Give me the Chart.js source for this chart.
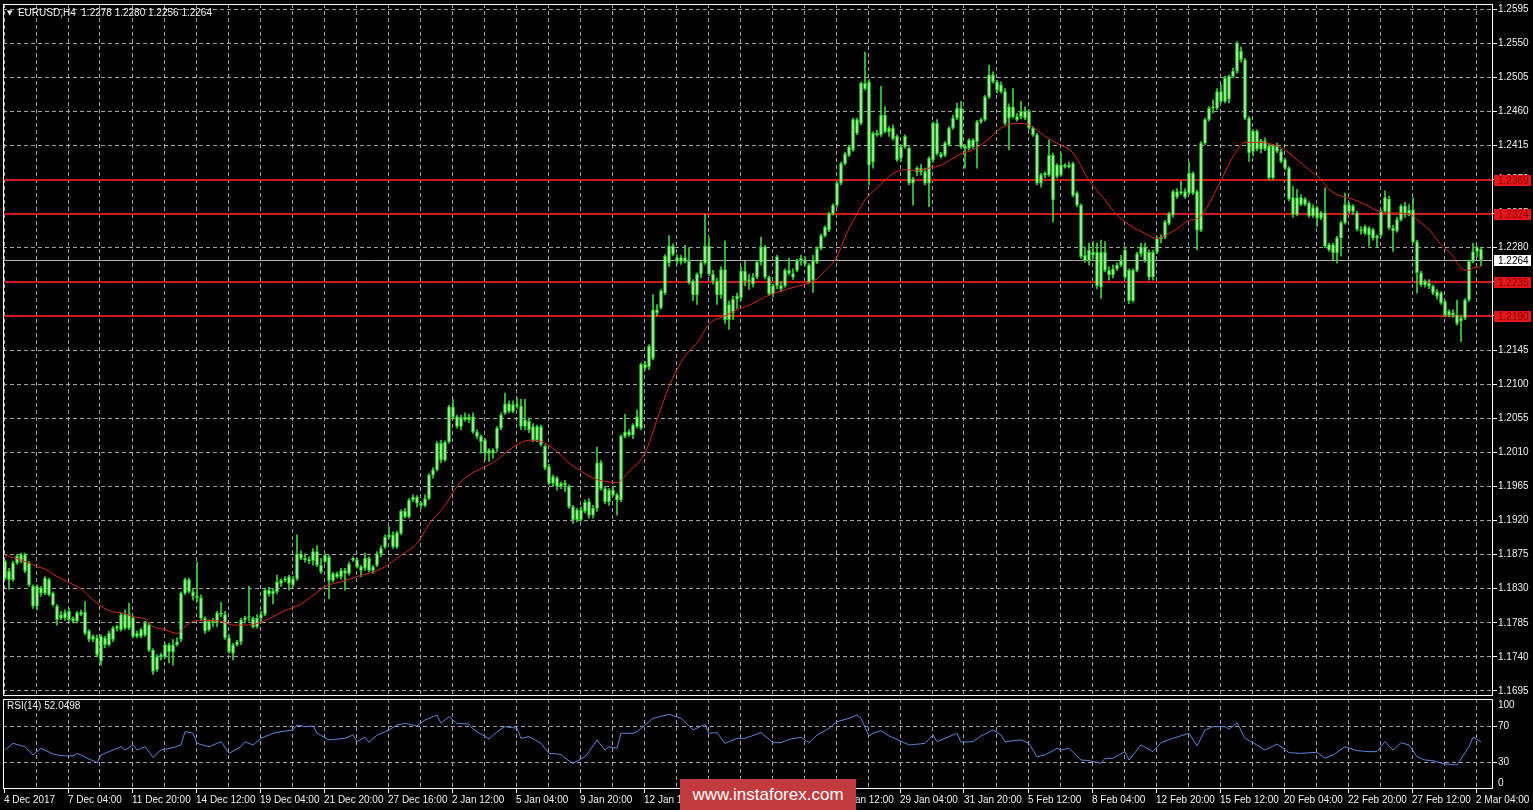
<!DOCTYPE html>
<html>
<head>
<meta charset="utf-8">
<title>EURUSD,H4</title>
<script src="https://cdn.jsdelivr.net/npm/chart.js@4.4.1/dist/chart.umd.min.js"></script>
<style>
  html, body { margin: 0; padding: 0; background: #000; }
  body { width: 1533px; height: 810px; position: relative; overflow: hidden; font-family: "Liberation Sans", Arial, sans-serif; }
  #mainBox { position: absolute; left: 0; top: 0; width: 1533px; height: 697px; }
  #rsiBox { position: absolute; left: 0; top: 697px; width: 1533px; height: 113px; }
  .caption { position: absolute; color: #f2f2f2; font-size: 10px; line-height: 12px; white-space: pre; }
  #title { left: 7px; top: 7px; }
  #title .tri { font-family: "DejaVu Sans"; font-size: 7px; position: relative; top: -1px; }
  #rsiTitle { left: 7px; top: 700px; }
  #mark { position: absolute; left: 680px; top: 779px; width: 176px; height: 31px; background: #c23a3d;
          color: #fff; font-size: 17px; line-height: 31px; text-align: center; }
</style>
</head>
<body>
<div id="mainBox"><canvas id="main"></canvas></div>
<div id="rsiBox"><canvas id="rsi"></canvas></div>
<div id="title" class="caption"><span class="tri">▼</span>  EURUSD,H4  1.2278 1.2280 1.2256 1.2264</div>
<div id="rsiTitle" class="caption">RSI(14) 52.0498</div>
<div id="mark">www.instaforex.com</div>
<script>
// EURUSD H4, one entry per bar (4 Dec 2017 .. 2 Mar 2018)
const opens = [
  1.1844,1.1853,1.1842,1.1864,1.1866,1.1875,1.1864,1.1833,1.1807,1.1831,
  1.1824,1.1842,1.1824,1.1807,1.1791,1.1791,1.1800,1.1787,1.1787,1.1799,
  1.1799,1.1774,1.1763,1.1765,1.1734,1.1765,1.1756,1.1763,1.1778,1.1776,
  1.1796,1.1778,1.1792,1.1767,1.1767,1.1769,1.1782,1.1749,1.1723,1.1740,
  1.1740,1.1756,1.1747,1.1756,1.1763,1.1824,1.1842,1.1826,1.1820,1.1818,
  1.1791,1.1776,1.1787,1.1785,1.1798,1.1796,1.1765,1.1745,1.1756,1.1760,
  1.1789,1.1792,1.1791,1.1780,1.1791,1.1796,1.1828,1.1823,1.1826,1.1837,
  1.1841,1.1846,1.1835,1.1843,1.1876,1.1870,1.1868,1.1867,1.1879,1.1861,
  1.1866,1.1872,1.1841,1.1850,1.1846,1.1854,1.1850,1.1868,1.1868,1.1859,
  1.1857,1.1870,1.1854,1.1861,1.1876,1.1885,1.1898,1.1901,1.1885,1.1903,
  1.1932,1.1925,1.1947,1.1951,1.1943,1.1940,1.1949,1.1980,1.1987,1.2022,
  1.2000,1.2024,1.2070,1.2057,1.2044,1.2056,1.2053,1.2057,1.2037,1.2031,
  1.2026,1.2009,1.2013,1.2015,1.2042,1.2062,1.2074,1.2064,1.2073,1.2071,
  1.2044,1.2051,1.2044,1.2026,1.2044,1.2018,1.1991,1.1969,1.1976,1.1965,
  1.1969,1.1965,1.1938,1.1921,1.1934,1.1932,1.1945,1.1927,1.1936,1.1996,
  1.1962,1.1945,1.1960,1.1954,1.1947,1.2031,1.2037,1.2033,1.2044,1.2042,
  1.2126,1.2123,1.2134,1.2198,1.2201,1.2220,1.2260,1.2282,1.2267,1.2262,
  1.2267,1.2262,1.2236,1.2218,1.2245,1.2260,1.2282,1.2245,1.2236,1.2218,
  1.2251,1.2185,1.2194,1.2212,1.2214,1.2249,1.2236,1.2232,1.2241,1.2261,
  1.2281,1.2241,1.2219,1.2230,1.2230,1.2230,1.2250,1.2246,1.2250,1.2263,
  1.2263,1.2257,1.2237,1.2261,1.2279,1.2296,1.2303,1.2325,1.2336,1.2365,
  1.2391,1.2402,1.2409,1.2449,1.2444,1.2497,1.2499,1.2393,1.2431,1.2429,
  1.2455,1.2433,1.2438,1.2427,1.2398,1.2413,1.2411,1.2365,1.2380,1.2385,
  1.2380,1.2365,1.2396,1.2444,1.2404,1.2402,1.2416,1.2438,1.2451,1.2464,
  1.2414,1.2411,1.2422,1.2420,1.2446,1.2449,1.2479,1.2508,1.2499,1.2495,
  1.2486,1.2451,1.2466,1.2453,1.2453,1.2460,1.2460,1.2438,1.2429,1.2365,
  1.2376,1.2376,1.2402,1.2374,1.2389,1.2387,1.2389,1.2391,1.2352,1.2336,
  1.2270,1.2263,1.2274,1.2274,1.2228,1.2274,1.2250,1.2244,1.2252,1.2257,
  1.2277,1.2250,1.2210,1.2250,1.2272,1.2281,1.2274,1.2241,1.2274,1.2292,
  1.2294,1.2312,1.2323,1.2354,1.2352,1.2354,1.2352,1.2378,1.2354,1.2303,
  1.2418,1.2449,1.2464,1.2464,1.2486,1.2473,1.2476,1.2506,1.2513,1.2539,
  1.2528,1.2451,1.2407,1.2434,1.2410,1.2421,1.2414,1.2372,1.2414,1.2407,
  1.2396,1.2385,1.2346,1.2324,1.2346,1.2337,1.2339,1.2322,1.2333,1.2319,
  1.2326,1.2284,1.2284,1.2273,1.2293,1.2313,1.2337,1.2328,1.2326,1.2304,
  1.2299,1.2306,1.2304,1.2293,1.2297,1.2328,1.2344,1.2306,1.2302,1.2317,
  1.2335,1.2324,1.2330,1.2288,1.2247,1.2231,1.2233,1.2229,1.2222,1.2220,
  1.2209,1.2191,1.2194,1.2191,1.2183,1.2187,1.2211,1.2262,1.2275,1.2278
];
const highs = [
  1.1868,1.1857,1.1866,1.1875,1.1877,1.1877,1.1866,1.1835,1.1835,1.1833,
  1.1846,1.1844,1.1826,1.1809,1.1800,1.1802,1.1804,1.1793,1.1800,1.1802,
  1.1813,1.1776,1.1769,1.1769,1.1769,1.1767,1.1774,1.1780,1.1782,1.1798,
  1.1802,1.1811,1.1794,1.1774,1.1778,1.1787,1.1785,1.1751,1.1743,1.1745,
  1.1758,1.1758,1.1763,1.1765,1.1826,1.1844,1.1844,1.1829,1.1865,1.1822,
  1.1793,1.1789,1.1791,1.1800,1.1812,1.1800,1.1769,1.1758,1.1762,1.1791,
  1.1794,1.1833,1.1793,1.1796,1.1800,1.1830,1.1832,1.1830,1.1848,1.1843,
  1.1846,1.1848,1.1846,1.1901,1.1880,1.1876,1.1872,1.1883,1.1887,1.1870,
  1.1876,1.1874,1.1852,1.1852,1.1857,1.1857,1.1865,1.1872,1.1870,1.1861,
  1.1877,1.1872,1.1861,1.1879,1.1887,1.1901,1.1912,1.1905,1.1906,1.1934,
  1.1936,1.1949,1.1954,1.1953,1.1945,1.1954,1.1982,1.1990,1.2024,1.2026,
  1.2025,1.2072,1.2080,1.2059,1.2059,1.2062,1.2060,1.2062,1.2040,1.2033,
  1.2028,1.2015,1.2015,1.2044,1.2062,1.2088,1.2078,1.2078,1.2082,1.2080,
  1.2080,1.2055,1.2048,1.2046,1.2046,1.2020,1.1994,1.1980,1.1978,1.1971,
  1.1973,1.1967,1.1940,1.1936,1.1938,1.1947,1.1949,1.1940,1.2017,1.1999,
  1.1965,1.1962,1.1965,1.1956,1.2033,1.2060,1.2040,1.2048,1.2066,1.2128,
  1.2130,1.2152,1.2218,1.2205,1.2225,1.2271,1.2296,1.2285,1.2271,1.2270,
  1.2283,1.2280,1.2238,1.2247,1.2262,1.2324,1.2293,1.2250,1.2240,1.2255,
  1.2289,1.2210,1.2216,1.2220,1.2255,1.2262,1.2245,1.2246,1.2263,1.2294,
  1.2283,1.2243,1.2232,1.2270,1.2235,1.2252,1.2266,1.2252,1.2265,1.2270,
  1.2268,1.2259,1.2270,1.2281,1.2298,1.2309,1.2327,1.2338,1.2367,1.2393,
  1.2406,1.2415,1.2451,1.2451,1.2499,1.2538,1.2502,1.2433,1.2435,1.2493,
  1.2466,1.2440,1.2442,1.2429,1.2415,1.2429,1.2413,1.2373,1.2387,1.2390,
  1.2385,1.2400,1.2446,1.2449,1.2406,1.2420,1.2440,1.2455,1.2471,1.2473,
  1.2416,1.2424,1.2424,1.2448,1.2451,1.2481,1.2521,1.2512,1.2501,1.2499,
  1.2490,1.2470,1.2490,1.2457,1.2473,1.2466,1.2462,1.2440,1.2431,1.2378,
  1.2380,1.2422,1.2405,1.2391,1.2405,1.2391,1.2393,1.2393,1.2354,1.2338,
  1.2281,1.2286,1.2288,1.2286,1.2290,1.2288,1.2255,1.2257,1.2260,1.2270,
  1.2281,1.2252,1.2252,1.2274,1.2286,1.2286,1.2277,1.2277,1.2294,1.2297,
  1.2316,1.2327,1.2356,1.2358,1.2368,1.2358,1.2393,1.2380,1.2356,1.2420,
  1.2451,1.2466,1.2475,1.2490,1.2495,1.2506,1.2508,1.2517,1.2552,1.2545,
  1.2530,1.2453,1.2436,1.2436,1.2423,1.2425,1.2417,1.2416,1.2418,1.2410,
  1.2398,1.2387,1.2361,1.2357,1.2350,1.2346,1.2341,1.2337,1.2335,1.2328,
  1.2359,1.2286,1.2286,1.2295,1.2315,1.2352,1.2340,1.2337,1.2328,1.2308,
  1.2310,1.2308,1.2306,1.2297,1.2330,1.2355,1.2348,1.2310,1.2320,1.2337,
  1.2340,1.2337,1.2346,1.2290,1.2249,1.2238,1.2238,1.2231,1.2225,1.2222,
  1.2211,1.2198,1.2198,1.2211,1.2190,1.2213,1.2264,1.2286,1.2282,1.2280
];
const lows = [
  1.1842,1.1829,1.1840,1.1862,1.1864,1.1851,1.1833,1.1804,1.1802,1.1820,
  1.1822,1.1820,1.1807,1.1782,1.1789,1.1788,1.1787,1.1785,1.1785,1.1794,
  1.1769,1.1760,1.1760,1.1740,1.1729,1.1752,1.1754,1.1760,1.1774,1.1774,
  1.1776,1.1776,1.1765,1.1765,1.1765,1.1767,1.1747,1.1717,1.1721,1.1736,
  1.1738,1.1732,1.1729,1.1754,1.1760,1.1822,1.1824,1.1815,1.1813,1.1789,
  1.1771,1.1774,1.1780,1.1780,1.1793,1.1763,1.1745,1.1736,1.1754,1.1756,
  1.1785,1.1787,1.1778,1.1778,1.1785,1.1794,1.1820,1.1810,1.1823,1.1833,
  1.1839,1.1828,1.1833,1.1841,1.1868,1.1865,1.1863,1.1861,1.1859,1.1850,
  1.1864,1.1817,1.1839,1.1844,1.1843,1.1828,1.1848,1.1866,1.1857,1.1846,
  1.1854,1.1852,1.1850,1.1859,1.1872,1.1883,1.1896,1.1883,1.1883,1.1901,
  1.1923,1.1923,1.1945,1.1938,1.1936,1.1938,1.1947,1.1976,1.1985,1.1996,
  1.1998,1.2022,1.2055,1.2042,1.2040,1.2051,1.2049,1.2035,1.2028,1.2009,
  1.2000,1.1998,1.2002,1.2011,1.2040,1.2060,1.2062,1.2062,1.2068,1.2040,
  1.2040,1.2036,1.2024,1.2024,1.2018,1.1987,1.1967,1.1965,1.1960,1.1962,
  1.1958,1.1936,1.1916,1.1918,1.1919,1.1930,1.1923,1.1923,1.1932,1.1960,
  1.1942,1.1940,1.1952,1.1927,1.1945,1.2029,1.2031,1.2028,1.2042,1.2040,
  1.2119,1.2119,1.2132,1.2190,1.2199,1.2218,1.2255,1.2269,1.2258,1.2258,
  1.2260,1.2232,1.2210,1.2205,1.2240,1.2258,1.2243,1.2232,1.2205,1.2213,
  1.2180,1.2172,1.2185,1.2200,1.2210,1.2230,1.2225,1.2228,1.2239,1.2257,
  1.2239,1.2217,1.2215,1.2226,1.2222,1.2228,1.2244,1.2238,1.2248,1.2257,
  1.2257,1.2233,1.2221,1.2259,1.2277,1.2294,1.2301,1.2323,1.2334,1.2363,
  1.2389,1.2400,1.2407,1.2429,1.2442,1.2488,1.2363,1.2385,1.2427,1.2427,
  1.2431,1.2427,1.2422,1.2394,1.2394,1.2411,1.2363,1.2336,1.2375,1.2376,
  1.2363,1.2334,1.2393,1.2402,1.2398,1.2400,1.2414,1.2436,1.2449,1.2411,
  1.2385,1.2409,1.2411,1.2385,1.2444,1.2447,1.2477,1.2497,1.2484,1.2484,
  1.2442,1.2409,1.2451,1.2447,1.2450,1.2449,1.2436,1.2427,1.2363,1.2360,
  1.2372,1.2374,1.2314,1.2372,1.2374,1.2385,1.2385,1.2347,1.2334,1.2266,
  1.2261,1.2257,1.2266,1.2226,1.2213,1.2248,1.2237,1.2240,1.2250,1.2255,
  1.2239,1.2206,1.2208,1.2248,1.2268,1.2261,1.2237,1.2237,1.2272,1.2286,
  1.2292,1.2310,1.2320,1.2345,1.2350,1.2345,1.2350,1.2350,1.2277,1.2301,
  1.2416,1.2447,1.2458,1.2462,1.2471,1.2471,1.2471,1.2504,1.2510,1.2525,
  1.2449,1.2394,1.2401,1.2408,1.2405,1.2408,1.2370,1.2370,1.2405,1.2392,
  1.2383,1.2342,1.2320,1.2322,1.2335,1.2335,1.2320,1.2320,1.2308,1.2317,
  1.2280,1.2275,1.2264,1.2260,1.2269,1.2311,1.2326,1.2324,1.2302,1.2298,
  1.2297,1.2282,1.2290,1.2280,1.2295,1.2326,1.2304,1.2275,1.2300,1.2315,
  1.2320,1.2322,1.2286,1.2220,1.2229,1.2228,1.2226,1.2218,1.2212,1.2205,
  1.2189,1.2189,1.2188,1.2178,1.2156,1.2185,1.2209,1.2260,1.2268,1.2256
];
const closes = [
  1.1866,1.1842,1.1864,1.1873,1.1875,1.1853,1.1835,1.1807,1.1833,1.1824,
  1.1844,1.1822,1.1809,1.1789,1.1796,1.1798,1.1789,1.1791,1.1798,1.1796,
  1.1771,1.1763,1.1767,1.1743,1.1767,1.1756,1.1771,1.1778,1.1780,1.1796,
  1.1778,1.1796,1.1767,1.1771,1.1776,1.1785,1.1749,1.1721,1.1740,1.1743,
  1.1756,1.1747,1.1756,1.1760,1.1824,1.1842,1.1826,1.1820,1.1818,1.1791,
  1.1774,1.1787,1.1785,1.1798,1.1796,1.1765,1.1747,1.1756,1.1760,1.1789,
  1.1792,1.1793,1.1780,1.1791,1.1796,1.1828,1.1823,1.1827,1.1839,1.1841,
  1.1843,1.1837,1.1843,1.1876,1.1870,1.1868,1.1867,1.1879,1.1861,1.1852,
  1.1874,1.1841,1.1850,1.1846,1.1854,1.1850,1.1862,1.1870,1.1859,1.1854,
  1.1870,1.1854,1.1859,1.1876,1.1883,1.1898,1.1901,1.1885,1.1904,1.1932,
  1.1925,1.1947,1.1951,1.1943,1.1940,1.1949,1.1980,1.1987,1.2022,1.2000,
  1.2023,1.2070,1.2057,1.2044,1.2056,1.2053,1.2056,1.2037,1.2031,1.2024,
  1.2009,1.2013,1.2009,1.2042,1.2059,1.2074,1.2064,1.2073,1.2071,1.2044,
  1.2053,1.2040,1.2026,1.2044,1.2020,1.1989,1.1969,1.1978,1.1965,1.1969,
  1.1967,1.1938,1.1921,1.1934,1.1921,1.1944,1.1927,1.1936,1.1996,1.1962,
  1.1945,1.1960,1.1954,1.1947,1.2031,1.2037,1.2033,1.2046,1.2057,1.2126,
  1.2121,1.2150,1.2198,1.2194,1.2223,1.2269,1.2282,1.2271,1.2262,1.2267,
  1.2262,1.2234,1.2218,1.2245,1.2260,1.2282,1.2245,1.2236,1.2218,1.2251,
  1.2185,1.2205,1.2212,1.2216,1.2249,1.2236,1.2238,1.2241,1.2261,1.2281,
  1.2241,1.2219,1.2230,1.2268,1.2226,1.2250,1.2246,1.2241,1.2263,1.2266,
  1.2259,1.2235,1.2263,1.2279,1.2296,1.2307,1.2325,1.2336,1.2365,1.2391,
  1.2404,1.2413,1.2449,1.2431,1.2497,1.2490,1.2389,1.2431,1.2429,1.2455,
  1.2433,1.2438,1.2424,1.2396,1.2413,1.2427,1.2365,1.2371,1.2385,1.2380,
  1.2365,1.2398,1.2444,1.2404,1.2400,1.2418,1.2438,1.2451,1.2464,1.2413,
  1.2411,1.2422,1.2413,1.2446,1.2449,1.2479,1.2508,1.2499,1.2488,1.2486,
  1.2444,1.2466,1.2453,1.2449,1.2460,1.2451,1.2438,1.2429,1.2365,1.2376,
  1.2378,1.2402,1.2343,1.2389,1.2376,1.2389,1.2387,1.2349,1.2336,1.2268,
  1.2263,1.2277,1.2270,1.2230,1.2274,1.2250,1.2244,1.2252,1.2257,1.2263,
  1.2241,1.2210,1.2250,1.2272,1.2281,1.2263,1.2241,1.2274,1.2292,1.2294,
  1.2314,1.2325,1.2354,1.2347,1.2354,1.2347,1.2378,1.2352,1.2303,1.2418,
  1.2449,1.2464,1.2466,1.2486,1.2473,1.2504,1.2506,1.2513,1.2550,1.2528,
  1.2451,1.2405,1.2434,1.2410,1.2421,1.2410,1.2372,1.2414,1.2407,1.2394,
  1.2385,1.2344,1.2324,1.2346,1.2337,1.2344,1.2322,1.2333,1.2319,1.2326,
  1.2282,1.2277,1.2273,1.2293,1.2313,1.2337,1.2328,1.2335,1.2304,1.2302,
  1.2308,1.2297,1.2293,1.2295,1.2328,1.2346,1.2306,1.2302,1.2317,1.2335,
  1.2324,1.2330,1.2288,1.2247,1.2231,1.2236,1.2229,1.2220,1.2216,1.2207,
  1.2191,1.2196,1.2191,1.2180,1.2187,1.2211,1.2262,1.2275,1.2280,1.2264
];

// red moving average, read at sample bars
const maBars = [
  0,2,6,8,10,12,16,19,21,24,26,30,32,35,37,40,43,45,47,50,54,57,60,63,
  70,74,78,80,84,88,92,95,99,103,106,110,113,116,120,123,
  125,128,131,135,138,141,145,148,151,153,156,160,163,166,170,173,176,180,183,186,
  190,192,196,200,203,205,208,210,213,215,217,220,222,225,228,231,234,237,239,242,246,249,
  253,256,260,263,267,271,275,278,282,285,288,290,293,296,298,301,304,307,310,
  314,317,320,323,326,329,331,334,337,340,343,346,351,353,356,359,362,364,366,367,369
];
const maValues = [
  1.1874,1.1871,1.1864,1.1859,1.1856,1.1849,1.1838,1.1830,1.1820,1.1807,1.1801,1.1797,1.1793,1.1790,1.1780,1.1776,1.1771,1.1780,1.1787,1.1788,1.1787,1.1782,1.1782,1.1784,
  1.1801,1.1810,1.1825,1.1833,1.1839,1.1846,1.1852,1.1859,1.1874,1.1890,1.1915,1.1940,1.1965,1.1980,1.1991,1.2000,
  1.2009,1.2020,1.2026,1.2022,1.2011,1.1996,1.1982,1.1974,1.1971,1.1970,1.1985,1.2009,1.2053,1.2097,1.2137,1.2154,1.2179,1.2190,1.2198,1.2204,
  1.2215,1.2219,1.2226,1.2232,1.2239,1.2250,1.2268,1.2294,1.2325,1.2343,1.2354,1.2369,1.2378,1.2383,1.2382,1.2385,1.2389,1.2398,1.2404,1.2409,1.2424,1.2438,
  1.2444,1.2442,1.2427,1.2418,1.2405,1.2369,1.2343,1.2323,1.2307,1.2299,1.2292,1.2296,1.2305,1.2316,1.2318,1.2338,1.2369,1.2400,1.2419,
  1.2419,1.2416,1.2409,1.2396,1.2383,1.2370,1.2357,1.2348,1.2344,1.2337,1.2329,1.2326,1.2325,1.2317,1.2304,1.2284,1.2269,1.2253,1.2250,1.2253,1.2255
];

// RSI(14), read at sample bars
const rsiBars = [
  0,2,5,7,9,12,14,17,18,21,23,24,27,29,30,32,33,35,37,39,
  42,44,45,47,48,51,54,56,59,60,62,64,67,69,72,73,75,77,78,81,
  85,87,88,90,91,93,96,98,100,103,105,108,109,111,113,116,117,121,123,125,
  128,129,131,134,136,139,140,142,145,146,148,150,151,153,154,157,158,160,162,166,
  169,172,175,176,178,180,183,185,
  189,192,194,196,199,201,203,206,208,211,213,214,216,217,219,221,223,226,230,232,
  233,235,238,239,242,244,247,249,250,254,256,258,260,263,264,266,269,271,274,275,
  277,280,281,284,287,289,292,296,298,300,302,305,306,308,310,312,315,318,321,324,
  328,330,332,335,338,341,343,345,347,349,351,353,355,357,360,363,366,367,369
];
const rsiValues = [
  43.3,50.7,47.0,37.8,45.2,38.9,37.0,36.7,39.6,33.3,29.3,37.8,43.3,47.0,43.3,48.9,43.3,47.0,35.2,43.3,
  45.9,48.9,63.7,61.9,50.7,47.0,52.6,39.6,47.0,52.6,48.9,56.3,61.9,63.7,65.6,71.1,69.3,70.0,61.9,54.5,
  56.3,60.0,52.6,57.4,51.9,60.0,65.6,71.1,73.0,70.0,76.7,82.2,73.0,80.4,73.0,72.2,66.3,55.6,63.7,69.3,
  67.4,56.3,58.2,50.7,39.6,38.5,34.1,28.5,35.9,41.5,54.5,43.3,47.0,45.2,61.9,61.9,63.7,71.1,78.5,83.0,
  78.5,65.6,71.9,61.9,62.6,50.7,56.3,56.3,
  62.6,51.5,51.5,55.2,57.4,51.5,60.0,67.4,74.8,78.5,82.2,78.5,58.9,61.9,64.8,58.9,55.2,48.9,50.7,60.0,
  52.6,56.3,61.9,51.9,52.6,58.9,65.6,60.0,52.6,54.5,50.7,35.9,37.8,45.2,43.3,45.2,32.2,31.5,28.5,34.1,
  34.1,41.5,32.2,48.9,41.5,51.5,56.3,61.9,47.8,65.6,69.3,69.3,66.3,73.7,56.3,51.5,43.3,50.0,40.4,39.6,
  40.8,34.1,37.8,47.0,42.6,41.5,41.5,52.6,43.3,51.5,48.9,35.9,32.2,31.5,27.8,26.7,47.0,57.4,52.6
];

const priceTicks = [
  1.2595,1.2550,1.2505,1.2460,1.2415,1.2370,1.2325,1.2280,1.2235,1.2190,1.2145,
  1.2100,1.2055,1.2010,1.1965,1.1920,1.1875,1.1830,1.1785,1.1740,1.1695
];
const rsiTicks = [100, 70, 30, 0];
const timeLabels = [
  '4 Dec 2017','7 Dec 04:00','11 Dec 20:00','14 Dec 12:00','19 Dec 04:00','21 Dec 20:00',
  '27 Dec 16:00','2 Jan 12:00','5 Jan 04:00','9 Jan 20:00','12 Jan 12:00','17 Jan 04:00',
  '19 Jan 20:00','24 Jan 12:00','29 Jan 04:00','31 Jan 20:00','5 Feb 12:00','8 Feb 04:00',
  '12 Feb 20:00','15 Feb 12:00','20 Feb 04:00','22 Feb 20:00','27 Feb 12:00','2 Mar 04:00'
];
const levels = [1.2369, 1.2324, 1.2235, 1.2190];
const lastPrice = 1.2264;

// layout of the MT4 window
const X_MIN = -0.5, X_MAX = 372;      // 4 px per bar
const COLUMN = 8;                      // bars between vertical grid lines
const FONT = '"Liberation Sans", Arial, sans-serif';
const GRID = 'rgba(190,190,190,0.85)';
const DASH = [4, 3];

Chart.defaults.font.family = FONT;
Chart.defaults.font.size = 10;
Chart.defaults.color = '#f0f0f0';
Chart.defaults.animation = false;

function columnTicks(scale) {
  const t = [];
  for (let v = -0.25; v < X_MAX; v += COLUMN) t.push({ value: v });
  scale.ticks = t;
}
function fixBox(w, h) {
  return s => {
    if (w !== null) s.width = w;
    if (h !== null) s.height = h;
    s.paddingTop = s.paddingBottom = s.paddingLeft = s.paddingRight = 0;
  };
}

const framePlugin = {
  id: 'frame',
  afterDraw(chart) {
    const { ctx, chartArea: a } = chart;
    ctx.save();
    ctx.setLineDash([]);
    ctx.strokeStyle = '#ffffff';
    ctx.lineWidth = 1;
    ctx.strokeRect(a.left + 0.5, a.top + 0.5, a.width - 1, a.height - 1);
    ctx.restore();
  }
};

const levelPlugin = {
  id: 'levels',
  beforeDatasetsDraw(chart) {
    const { ctx, chartArea: a, scales: { y } } = chart;
    ctx.save();
    ctx.setLineDash([]);
    ctx.beginPath();
    ctx.rect(a.left, a.top, a.width, a.height);
    ctx.clip();
    let py = Math.round(y.getPixelForValue(lastPrice)) + 0.5;
    ctx.strokeStyle = '#b0b0b0';
    ctx.lineWidth = 1;
    ctx.beginPath(); ctx.moveTo(a.left, py); ctx.lineTo(a.right, py); ctx.stroke();
    // solid red levels, wide enough to hide the dotted grid row next to them
    ctx.strokeStyle = '#d81818';
    ctx.lineWidth = 2;
    levels.forEach(v => {
      py = Math.round(y.getPixelForValue(v));
      ctx.beginPath(); ctx.moveTo(a.left, py); ctx.lineTo(a.right, py); ctx.stroke();
    });
    ctx.restore();
  },
  afterDraw(chart) {
    const { ctx, chartArea: a, scales: { y } } = chart;
    const tag = (v, bg, fg) => {
      const py = Math.round(y.getPixelForValue(v));
      ctx.fillStyle = bg;
      ctx.fillRect(a.right + 1, py - 5, 37, 11);
      ctx.fillStyle = fg;
      ctx.fillText(v.toFixed(4), a.right + 5, py + 1);
    };
    ctx.save();
    ctx.font = '10px ' + FONT;
    ctx.textAlign = 'left';
    ctx.textBaseline = 'middle';
    levels.forEach(v => tag(v, '#e3161b', '#8a0000'));
    tag(lastPrice, '#ffffff', '#000000');
    ctx.restore();
  }
};

const rsiLabelPlugin = {
  id: 'rsiLabels',
  afterDraw(chart) {
    const { ctx, chartArea: a, scales: { y } } = chart;
    ctx.save();
    ctx.font = '10px ' + FONT;
    ctx.fillStyle = '#f0f0f0';
    ctx.textAlign = 'left';
    ctx.textBaseline = 'middle';
    rsiTicks.forEach(v => {
      const py = Math.min(Math.max(y.getPixelForValue(v), a.top + 6), a.bottom - 6);
      ctx.fillText(String(v), a.right + 5, py);
    });
    ctx.restore();
  }
};

const bars = closes.map((_, i) => i);

new Chart(document.getElementById('main'), {
  type: 'bar',
  data: {
    datasets: [
      {
        type: 'line',
        label: 'MA',
        data: maBars.map((b, k) => ({ x: b, y: maValues[k] })),
        borderColor: '#cc2a1e',
        borderWidth: 1,
        pointRadius: 0,
        cubicInterpolationMode: 'monotone',
        order: 0
      },
      {
        label: 'body',
        data: bars.map(i => ({ x: i, y: [opens[i], closes[i]] })),
        backgroundColor: '#a6f29e',
        borderColor: '#2fd12f',
        borderWidth: 1,
        borderSkipped: false,
        barThickness: 3,
        minBarLength: 1,
        grouped: false,
        order: 1
      },
      {
        label: 'wick',
        data: bars.map(i => ({ x: i, y: [lows[i], highs[i]] })),
        backgroundColor: '#3ed43e',
        barThickness: 1,
        grouped: false,
        order: 2
      }
    ]
  },
  options: {
    responsive: true,
    maintainAspectRatio: false,
    events: [],
    layout: { padding: { left: 3, top: 4, right: 0, bottom: 1 } },
    plugins: { legend: { display: false }, tooltip: { enabled: false } },
    scales: {
      x: {
        type: 'linear',
        min: X_MIN,
        max: X_MAX,
        offset: false,
        afterBuildTicks: columnTicks,
        afterFit: fixBox(null, 0),
        ticks: { display: false },
        grid: { color: GRID, drawTicks: false, offset: false },
        border: { display: false, dash: DASH }
      },
      y: {
        type: 'linear',
        position: 'right',
        min: 1.16884,
        max: 1.26016,
        afterBuildTicks: s => { s.ticks = priceTicks.map(v => ({ value: v })); },
        afterFit: fixBox(40, null),
        ticks: { padding: 1, color: '#f0f0f0', callback: v => Number(v).toFixed(4) },
        grid: { color: GRID, drawTicks: true, tickLength: 4, tickColor: '#ffffff' },
        border: { display: false, dash: DASH }
      }
    }
  },
  plugins: [levelPlugin, framePlugin]
});

new Chart(document.getElementById('rsi'), {
  type: 'line',
  data: {
    datasets: [{
      label: 'RSI(14)',
      data: rsiBars.map((b, k) => ({ x: b, y: rsiValues[k] })),
      borderColor: '#5b86d6',
      borderWidth: 1,
      pointRadius: 0,
      tension: 0
    }]
  },
  options: {
    responsive: true,
    maintainAspectRatio: false,
    events: [],
    layout: { padding: { left: 3, top: 2, right: 0, bottom: 0 } },
    plugins: { legend: { display: false }, tooltip: { enabled: false } },
    scales: {
      x: {
        type: 'linear',
        min: X_MIN,
        max: X_MAX,
        afterBuildTicks: columnTicks,
        afterFit: fixBox(null, 21),
        ticks: {
          align: 'start',
          autoSkip: false,
          maxRotation: 0,
          minRotation: 0,
          padding: 1,
          color: '#f0f0f0',
          callback: (v, i) => (i % 2 === 0 ? timeLabels[i / 2] : '')
        },
        grid: {
          color: c => (c.index === 0 ? 'rgba(0,0,0,0)' : GRID),
          drawTicks: true,
          tickLength: 4,
          tickColor: c => (c.index % 2 === 0 ? '#ffffff' : 'rgba(0,0,0,0)')
        },
        border: { display: false, dash: DASH }
      },
      y: {
        type: 'linear',
        position: 'right',
        min: 0,
        max: 100,
        afterBuildTicks: s => { s.ticks = [{ value: 30 }, { value: 70 }]; },
        afterFit: fixBox(40, null),
        ticks: { display: false },
        grid: { color: GRID, drawTicks: true, tickLength: 4, tickColor: '#ffffff' },
        border: { display: false, dash: DASH }
      }
    }
  },
  plugins: [rsiLabelPlugin, framePlugin]
});
</script>
</body>
</html>
